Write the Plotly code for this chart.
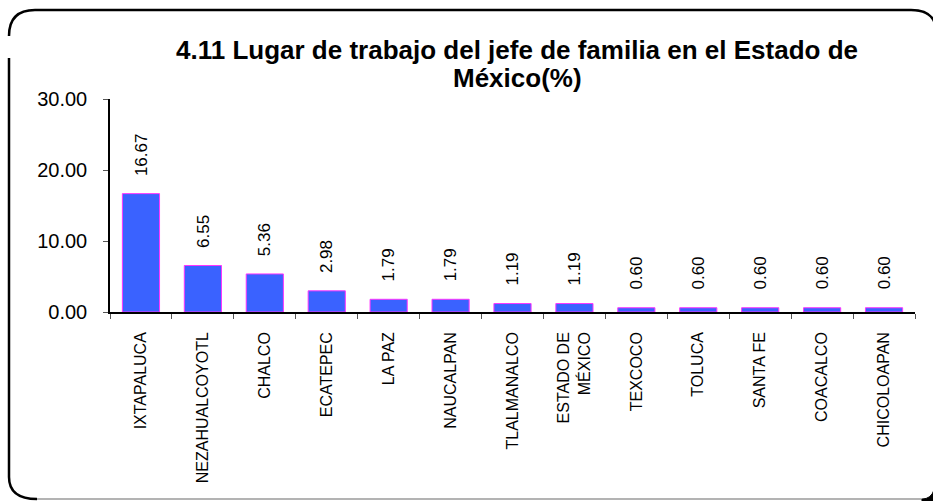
import plotly.graph_objects as go

# Workplace of the household head, State of Mexico (%)
municipios = [
    "IXTAPALUCA", "NEZAHUALCOYOTL", "CHALCO", "ECATEPEC", "LA PAZ",
    "NAUCALPAN", "TLALMANALCO", "ESTADO DE<br>MÉXICO", "TEXCOCO", "TOLUCA",
    "SANTA FE", "COACALCO", "CHICOLOAPAN",
]
porcentajes = [16.67, 6.55, 5.36, 2.98, 1.79, 1.79, 1.19, 1.19,
               0.60, 0.60, 0.60, 0.60, 0.60]
y_ticks = [0, 10, 20, 30]
titulo = ["4.11 Lugar de trabajo del jefe de familia en el Estado de", "México(%)"]

W, H = 933, 501
ML, MR, MT, MB = 110, 18, 99, 189
PW, PH = W - ML - MR, H - MT - MB

FONT = "Liberation Sans, Arial, sans-serif"


def px(x):
    return (x - ML) / PW


def py(y):
    return (H - MB - y) / PH


fig = go.Figure(
    go.Bar(
        x=municipios,
        y=porcentajes,
        marker=dict(color="#3A62FF", line=dict(color="#FF33FF", width=1)),
        hoverinfo="x+y",
    )
)

# value labels above each bar, rotated
for name, val in zip(municipios, porcentajes):
    fig.add_annotation(
        x=name, y=val, text=f"{val:.2f}", textangle=-90,
        showarrow=False, xanchor="center", yanchor="bottom", yshift=16,
        font=dict(family=FONT, size=17, color="black"),
    )

# chart title, two lines with tight spacing
for line, ymid in zip(titulo, (50, 78)):
    fig.add_annotation(
        x=px(517), y=py(ymid), xref="paper", yref="paper",
        text=f"<b>{line}</b>", showarrow=False,
        xanchor="center", yanchor="middle",
        font=dict(family=FONT, size=26, color="black"),
    )

# rounded chart frame
r1, r2 = 26, 22
left, top, right, bottom = 9, 10, 931, 499
frame = (
    f"M {px(left)},{py(top + 26)} "
    f"Q {px(left)},{py(top)} {px(left + r1)},{py(top)} "
    f"L {px(right - 20)},{py(top)} "
    f"Q {px(right)},{py(top)} {px(right + 4)},{py(top + 14)}"
)
fig.add_shape(type="path", path=frame, xref="paper", yref="paper",
              line=dict(color="black", width=2.5))
left_side = (
    f"M {px(left)},{py(58)} L {px(left)},{py(bottom - r2)} "
    f"Q {px(left)},{py(bottom)} {px(left + r2 + 6)},{py(bottom)}"
)
fig.add_shape(type="path", path=left_side, xref="paper", yref="paper",
              line=dict(color="black", width=2.5))
fig.add_shape(type="line", xref="paper", yref="paper",
              x0=px(left + r2 + 6), x1=px(922), y0=py(bottom), y1=py(bottom),
              line=dict(color="#9a9a9a", width=1.5))
fig.add_shape(type="path", xref="paper", yref="paper",
              path=f"M {px(922)},{py(bottom)} Q {px(931)},{py(bottom)} {px(934)},{py(bottom - 9)} "
                   f"L {px(934)},{py(bottom + 3)} L {px(922)},{py(bottom + 3)} Z",
              fillcolor="black", line=dict(color="black", width=1))

fig.update_layout(
    width=W, height=H,
    margin=dict(l=ML, r=MR, t=MT, b=MB),
    paper_bgcolor="white", plot_bgcolor="white",
    bargap=0.4,
    showlegend=False,
    font=dict(family=FONT, color="black"),
)
fig.update_xaxes(
    tickangle=-90, tickson="boundaries", ticks="outside", ticklen=5,
    tickcolor="#555", showline=True, linecolor="black", linewidth=1.5,
    tickfont=dict(family=FONT, size=16, color="black"),
    ticklabelstandoff=12, showgrid=False,
)
fig.update_yaxes(
    range=[0, 30], tickvals=y_ticks, tickformat=".2f",
    ticks="outside", ticklen=5, tickcolor="#555",
    showline=True, linecolor="black", linewidth=1.5, showgrid=False,
    zeroline=False, tickfont=dict(family=FONT, size=20, color="black"),
    ticklabelstandoff=12,
)

fig.write_html("out.html")
